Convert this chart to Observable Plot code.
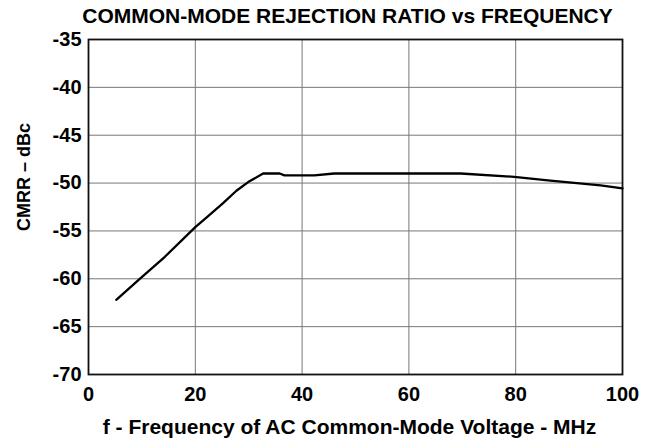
<!DOCTYPE html>
<html>
<head>
<meta charset="utf-8">
<script src="https://cdn.jsdelivr.net/npm/d3@7"></script>
<script src="https://cdn.jsdelivr.net/npm/@observablehq/plot@0.6"></script>
<style>
  html, body { margin: 0; padding: 0; background: #fff; }
</style>
</head>
<body>
<div id="chart"></div>
<script>
const freqMHz = [5.2, 9.6, 14.3, 20, 22.3, 25.2, 27.7, 29.9, 32.7, 35.8, 36.7, 42.3, 46, 58.5, 69.7, 79.7, 86.5, 95.9, 100];
const cmrrDbc = [-62.2, -60.0, -57.7, -54.6, -53.5, -52.1, -50.8, -49.9, -49.0, -49.0, -49.2, -49.2, -49.0, -49.0, -49.0, -49.35, -49.75, -50.25, -50.55];
const xTicks = [0, 20, 40, 60, 80, 100];
const yTicks = [-70, -65, -60, -55, -50, -45, -40, -35];
const titleText = "COMMON-MODE REJECTION RATIO vs FREQUENCY";
const xTitle = "f - Frequency of AC Common-Mode Voltage - MHz";
const yTitle = "CMRR \u2013 dBc";

const data = freqMHz.map((f, i) => ({f, v: cmrrDbc[i]}));

const chart = Plot.plot({
  width: 649,
  height: 442,
  marginTop: 39,
  marginLeft: 88,
  marginRight: 27,
  marginBottom: 68,
  style: {fontFamily: "'Liberation Sans', Arial, sans-serif", fontWeight: "bold", fontSize: "20px", color: "#000", background: "#fff"},
  x: {domain: [0, 100], ticks: xTicks, label: null},
  y: {domain: [-70, -35], ticks: yTicks, label: null},
  marks: [
    Plot.gridX(xTicks.slice(1, -1), {stroke: "#777", strokeOpacity: 1, strokeWidth: 1}),
    Plot.gridY(yTicks.slice(1, -1), {stroke: "#777", strokeOpacity: 1, strokeWidth: 1}),
    Plot.frame({stroke: "#111", strokeWidth: 1.8}),
    Plot.axisX(xTicks, {tickSize: 0, tickPadding: 12, fontSize: 20, fontWeight: "bold", label: null, tickFormat: d => String(d)}),
    Plot.axisY(yTicks, {tickSize: 0, tickPadding: 7, fontSize: 20, fontWeight: "bold", label: null, tickFormat: d => String(d)}),
    Plot.line(data, {x: "f", y: "v", stroke: "#000", strokeWidth: 2.3, curve: "linear"}),
    Plot.text([titleText], {frameAnchor: "top", textAnchor: "middle", lineAnchor: "middle", dy: -23, dx: -8, fontSize: 21, fontWeight: "bold", text: d => d}),
    Plot.text([xTitle], {frameAnchor: "bottom", textAnchor: "middle", lineAnchor: "middle", dy: 53, dx: -6, fontSize: 21, fontWeight: "bold", text: d => d}),
    Plot.text([yTitle], {frameAnchor: "left", textAnchor: "middle", lineAnchor: "middle", dx: -64, dy: -30, rotate: -90, fontSize: 18, fontWeight: "bold", text: d => d})
  ]
});
document.getElementById("chart").appendChild(chart);
</script>
</body>
</html>
